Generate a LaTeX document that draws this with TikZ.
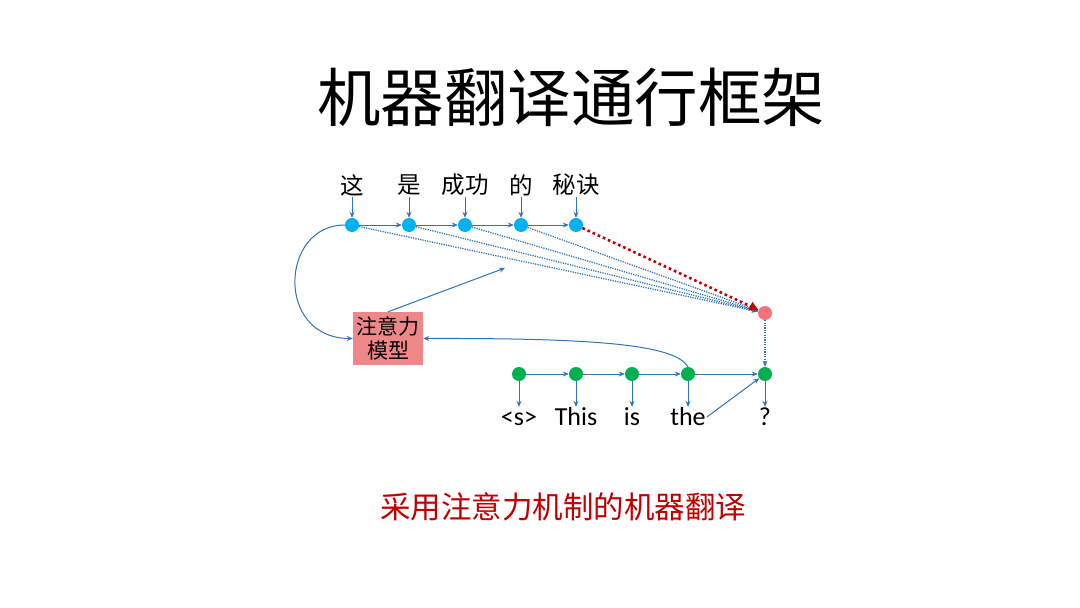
\documentclass[tikz,border=0pt]{standalone}
\usepackage{fontspec}
\newfontfamily\cjk{Noto Sans CJK SC}
\newfontfamily\lat{Carlito}
\usetikzlibrary{arrows.meta}
\definecolor{nodeblue}{HTML}{00B0F0}
\definecolor{lineblue}{HTML}{2E75B6}
\definecolor{nodegreen}{HTML}{00B050}
\definecolor{nodered}{HTML}{F4737A}
\definecolor{boxred}{HTML}{EE8888}
\definecolor{darkred}{HTML}{C00000}
\begin{document}
\begin{tikzpicture}[x=1pt,y=-1pt,
  bnode/.style={circle, fill=nodeblue, minimum size=14pt, inner sep=0pt},
  gnode/.style={circle, fill=nodegreen, minimum size=14pt, inner sep=0pt},
  rnode/.style={circle, fill=nodered, minimum size=14pt, inner sep=0pt},
  zhlab/.style={font=\cjk\fontsize{23.5}{23.5}\selectfont, inner sep=1pt},
  enlab/.style={font=\lat\fontsize{26}{26}\selectfont, inner sep=1pt, text height=17pt, text depth=1pt},
  arr/.style={lineblue, line width=1pt, -{Stealth[length=6pt,width=5pt]}},
  dotarr/.style={lineblue, line width=1.3pt, dash pattern=on 1.2pt off 1.2pt, -{Stealth[length=6pt,width=5pt]}},
]
\useasboundingbox (0,0) rectangle (1080,608);
\fill[white] (0,0) rectangle (1080,608);

\node[font=\cjk\fontsize{63.5}{63.5}\selectfont] (title) at (571,97) {机器翻译通行框架};

% source side
\node[bnode] (b1) at (352,225) {};
\node[bnode] (b2) at (409,225) {};
\node[bnode] (b3) at (465,225) {};
\node[bnode] (b4) at (521,225) {};
\node[bnode] (b5) at (576,225) {};
\node[zhlab] (s1) at (352,185) {这};
\node[zhlab] (s2) at (409,185) {是};
\node[zhlab] (s3) at (465,185) {成功};
\node[zhlab] (s4) at (521,185) {的};
\node[zhlab] (s5) at (576,185) {秘诀};
\foreach \i in {1,...,5} {\draw[arr] (s\i.south) -- (b\i.north);}
\draw[arr] (b1) -- (b2);
\draw[arr] (b2) -- (b3);
\draw[arr] (b3) -- (b4);
\draw[arr] (b4) -- (b5);

% red node
\node[rnode] (r) at (765,313) {};
\foreach \i in {1,...,4} {\draw[dotarr] (b\i) -- (r);}
\draw[darkred, line width=2.6pt, dash pattern=on 2.6pt off 3pt, -{Triangle[length=9pt,width=9pt]}] (b5) -- (r);

% target side
\node[gnode] (g1) at (519,374) {};
\node[gnode] (g2) at (576,374) {};
\node[gnode] (g3) at (632,374) {};
\node[gnode] (g4) at (688,374) {};
\node[gnode] (g5) at (765,374) {};
\node[enlab] (t1) at (519,417) {<s>};
\node[enlab] (t2) at (576,417) {This};
\node[enlab] (t3) at (632,417) {is};
\node[enlab] (t4) at (688,417) {the};
\node[enlab] (t5) at (765,417) {?};
\foreach \i in {1,...,5} {\draw[arr] (g\i.south) -- (t\i.north);}
\draw[arr] (g1) -- (g2);
\draw[arr] (g2) -- (g3);
\draw[arr] (g3) -- (g4);
\draw[arr] (g4) -- (g5);
\draw[dotarr] (r) -- (g5);
\draw[arr] (t4.east) -- (g5);

% attention model
\node[fill=boxred, minimum width=70pt, minimum height=53pt, inner sep=0pt, align=center,
      font=\cjk\fontsize{21}{24}\selectfont] (att) at (388,338.5) {注意力\\模型};
\coordinate (ctx) at (505,268);
\draw[arr] (att.north) -- (ctx);
\draw[arr] (b1.west) .. controls (280,225) and (275,338) .. (att.west);
\draw[arr] (g4.north) .. controls (675,345) and (600,338) .. (att.east);

\node[font=\cjk\fontsize{30.5}{30.5}\selectfont, text=darkred] (sub) at (563,507) {采用注意力机制的机器翻译};
\end{tikzpicture}
\end{document}
